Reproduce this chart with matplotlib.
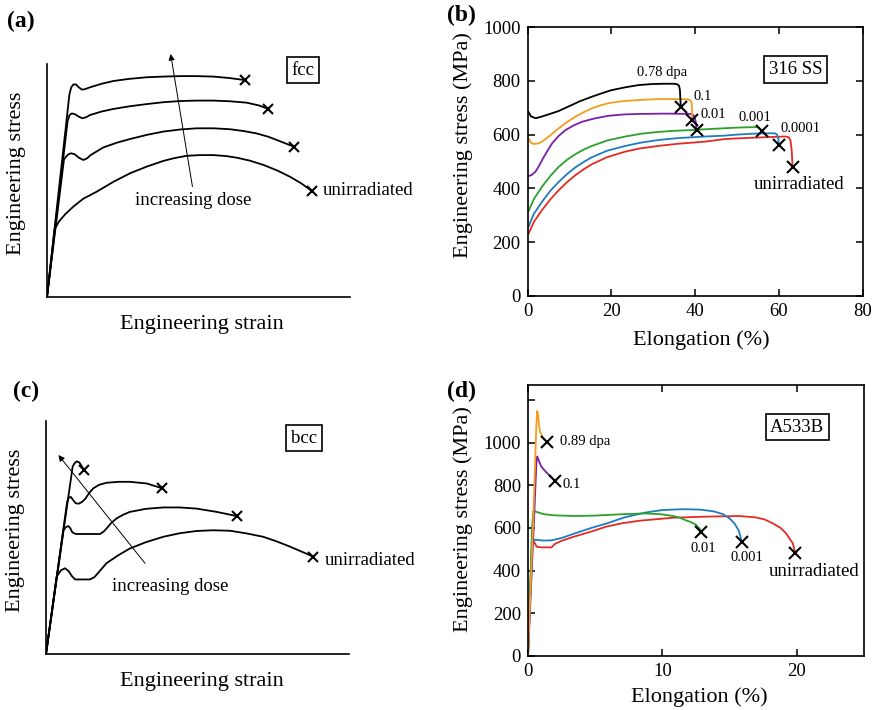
import matplotlib
matplotlib.use("Agg")
import matplotlib.pyplot as plt

plt.rcParams["font.family"] = "serif"
plt.rcParams["font.serif"] = ["Liberation Serif", "DejaVu Serif"]

# === Schematic fcc curves (arbitrary units) ===
fcc_unirr_x = [0, 0.25, 0.4, 0.6, 0.87, 1.2, 1.64, 2.2, 2.74, 3.3, 3.84, 4.2, 4.61, 5.05, 5.49, 5.9, 6.26, 6.7, 7.14, 7.6, 8.02, 8.4, 8.73]
fcc_unirr_y = [0, 2.9, 3.25, 3.55, 3.88, 4.22, 4.52, 4.95, 5.31, 5.6, 5.84, 5.96, 6.06, 6.09, 6.09, 6.05, 5.98, 5.85, 5.67, 5.43, 5.16, 4.87, 4.56]

fcc_d1_x = [0, 0.56, 0.63, 0.7, 0.8, 0.92, 1.05, 1.2, 1.32, 1.45, 1.86, 2.3, 2.74, 3.3, 3.84, 4.4, 4.94, 5.5, 6.04, 6.5, 6.92, 7.3, 7.58, 8.15]
fcc_d1_y = [0, 5.9, 6.02, 6.12, 6.17, 6.12, 5.98, 5.88, 5.95, 6.1, 6.42, 6.62, 6.78, 6.96, 7.1, 7.19, 7.24, 7.24, 7.2, 7.12, 7.02, 6.88, 6.74, 6.45]

fcc_d2_x = [0, 0.68, 0.74, 0.82, 0.93, 1.05, 1.17, 1.3, 1.42, 1.8, 2.19, 2.7, 3.29, 3.84, 4.39, 4.94, 5.49, 6.04, 6.59, 7.0, 7.3]
fcc_d2_y = [0, 7.55, 7.8, 7.88, 7.84, 7.74, 7.67, 7.72, 7.81, 7.96, 8.07, 8.18, 8.28, 8.36, 8.41, 8.43, 8.43, 8.4, 8.34, 8.22, 8.07]

fcc_d3_x = [0, 0.74, 0.8, 0.87, 0.95, 1.05, 1.15, 1.25, 1.42, 1.8, 2.19, 2.7, 3.29, 3.84, 4.39, 4.94, 5.49, 6.0, 6.53]
fcc_d3_y = [0, 8.7, 9.0, 9.12, 9.13, 9.0, 8.9, 8.92, 9.0, 9.15, 9.27, 9.36, 9.43, 9.46, 9.48, 9.48, 9.46, 9.4, 9.31]

# === Schematic bcc curves (arbitrary units) ===
bcc_unirr_x = [0, 0.35, 0.5, 0.63, 0.75, 0.85, 0.96, 1.2, 1.45, 1.6, 1.8, 2.0, 2.4, 2.77, 3.3, 3.87, 4.4, 4.97, 5.5, 6.07, 6.6, 7.17, 7.6, 8.05, 8.82]
bcc_unirr_y = [0, 3.32, 3.6, 3.68, 3.55, 3.35, 3.2, 3.2, 3.2, 3.3, 3.6, 3.9, 4.25, 4.53, 4.8, 5.03, 5.18, 5.28, 5.31, 5.29, 5.18, 5.03, 4.84, 4.61, 4.18]

bcc_d1_x = [0, 0.57, 0.66, 0.74, 0.8, 0.87, 0.98, 1.4, 1.78, 1.9, 2.0, 2.15, 2.33, 2.55, 2.77, 3.3, 3.87, 4.4, 4.97, 5.63, 6.29]
bcc_d1_y = [0, 5.3, 5.45, 5.49, 5.4, 5.22, 5.15, 5.15, 5.15, 5.25, 5.39, 5.62, 5.82, 5.98, 6.1, 6.23, 6.29, 6.29, 6.24, 6.1, 5.92]

bcc_d2_x = [0, 0.7, 0.76, 0.82, 0.9, 0.98, 1.08, 1.18, 1.29, 1.42, 1.56, 1.75, 2.0, 2.4, 2.77, 3.32, 3.84]
bcc_d2_y = [0, 6.55, 6.72, 6.74, 6.6, 6.47, 6.45, 6.52, 6.65, 6.9, 7.11, 7.26, 7.35, 7.39, 7.39, 7.32, 7.11]

bcc_d3_x = [0, 0.88, 0.95, 1.02, 1.1, 1.16, 1.25]
bcc_d3_y = [0, 8.05, 8.2, 8.27, 8.22, 8.1, 7.9]

# === 316 SS tensile data (elongation %, stress MPa) ===
ss_078_x = [0.3, 0.8, 1.9, 3.0, 5.0, 7.5, 10, 12.5, 15.4, 18, 20, 23.4, 26.5, 29.8, 32.5, 35.0, 35.8, 36.2, 36.4, 36.5, 36.6]
ss_078_y = [683, 668, 661, 665, 675, 688, 706, 724, 741, 755, 765, 776, 784, 788, 789, 789, 787, 781, 765, 735, 702]

ss_01_x = [0.3, 0.8, 1.5, 2.5, 3.5, 5.5, 7.5, 9.5, 11.5, 13.5, 15.4, 17.5, 19.4, 21.5, 23.4, 27, 31.3, 35, 38.3, 38.9, 39.2, 39.3, 39.3]
ss_01_y = [585, 570, 565, 567, 574, 598, 624, 647, 667, 684, 698, 709, 717, 722, 725, 729, 732, 732, 731, 728, 718, 690, 655]

ss_001_x = [0.3, 1.0, 1.9, 2.7, 3.5, 4.7, 5.9, 7.5, 9.1, 11, 13.1, 16, 19.4, 23, 27.4, 33, 38.5, 39.4, 39.9, 40.2, 40.4]
ss_001_y = [446, 450, 462, 482, 506, 538, 568, 596, 617, 634, 648, 660, 670, 675, 677, 678, 677, 675, 667, 645, 617]

ss_0001_x = [0.3, 1.5, 3.5, 5.5, 7.5, 9.5, 11.5, 13.5, 15.4, 19, 23.4, 27, 31.3, 35, 39.3, 45, 50, 54.8, 55.5, 55.9]
ss_0001_y = [317, 360, 407, 447, 481, 507, 528, 545, 558, 578, 593, 603, 610, 614, 617, 622, 626, 628, 622, 612]

ss_00001_x = [0.3, 1.5, 3.5, 5.5, 7.5, 9.5, 11.5, 13.5, 15.4, 19, 23.4, 27, 31.3, 36, 42.5, 46.9, 50, 54.8, 59.0, 59.6, 59.9, 60.0]
ss_00001_y = [260, 305, 351, 392, 425, 454, 479, 499, 516, 540, 558, 570, 580, 587, 593, 596, 600, 604, 605, 600, 585, 562]

ss_unirr_x = [0.3, 1.5, 3.5, 5.5, 7.5, 9.5, 11.5, 13.5, 15.4, 19, 23.4, 27, 31.3, 36, 42.5, 46.9, 50, 54.8, 58, 61.6, 62.4, 62.8, 63.1, 63.3]
ss_unirr_y = [233, 275, 320, 360, 394, 424, 450, 472, 490, 516, 537, 549, 558, 566, 574, 583, 586, 589, 591, 593, 590, 578, 540, 481]

# === A533B tensile data (elongation %, stress MPa) ===
a533_089_x = [0.0, 0.39, 0.52, 0.62, 0.68, 0.73, 0.8, 0.9, 1.05, 1.2, 1.38]
a533_089_y = [0, 637, 887, 1080, 1148, 1140, 1090, 1050, 1030, 1017, 1004]

a533_01_x = [0.0, 0.45, 0.62, 0.68, 0.75, 0.9, 1.0, 1.2, 1.38, 1.6, 1.8, 2.0]
a533_01_y = [0, 640, 900, 935, 925, 900, 887, 872, 860, 846, 834, 822]

a533_001_x = [0.0, 0.3, 0.4, 0.6, 0.9, 1.26, 2, 3.5, 5.0, 5.9, 7.2, 8.7, 9.8, 10.8, 11.3, 11.7, 12.1, 12.5, 12.8, 12.9]
a533_001_y = [0, 600, 680, 676, 670, 664, 659, 656, 658, 661, 665, 668, 665, 656, 648, 637, 628, 615, 595, 580]

a533_0001_x = [0, 0.3, 0.45, 0.8, 1.2, 1.75, 2.5, 3.5, 4.7, 5.9, 7.2, 8.7, 10, 11.5, 12.8, 13.8, 14.5, 15.0, 15.4, 15.7, 15.9]
a533_0001_y = [0, 520, 545, 543, 541, 542, 553, 575, 600, 622, 650, 672, 684, 688, 686, 678, 665, 645, 618, 585, 536]

a533_unirr_x = [0, 0.3, 0.45, 0.64, 1.0, 1.75, 2.0, 2.5, 3.35, 4.7, 5.8, 7.0, 8.3, 10.8, 13.2, 15.7, 16.9, 17.6, 18.2, 18.8, 19.2, 19.7, 19.9]
a533_unirr_y = [0, 530, 536, 512, 509, 509, 525, 540, 558, 583, 606, 622, 634, 648, 653, 656, 650, 640, 622, 600, 575, 528, 481]

C_BLACK = "black"
C_ORANGE = "#f39c1e"
C_PURPLE = "#7a1fa8"
C_GREEN = "#2ca02c"
C_BLUE = "#1f7bc0"
C_RED = "#e32b24"

LABEL_FS = 16
TICK_FS = 13.5
NOTE_FS = 13.5
DOSE_FS = 10.5


def schematic_axes(ax, xlabel_xy, ylabel_xy):
    ax.set_xlim(0, 10)
    ax.set_ylim(0, 10)
    for s in ["top", "right"]:
        ax.spines[s].set_visible(False)
    for s in ["left", "bottom"]:
        ax.spines[s].set_linewidth(1.2)
    ax.set_xticks([])
    ax.set_yticks([])
    ax.set_xlabel("Engineering strain", fontsize=LABEL_FS, va="center")
    ax.set_ylabel("Engineering stress", fontsize=LABEL_FS, va="center")
    ax.xaxis.set_label_coords(*xlabel_xy)
    ax.yaxis.set_label_coords(*ylabel_xy)


def data_axes(ax, xlabel_xy, ylabel_xy, right_ticks=True):
    for s in ax.spines.values():
        s.set_linewidth(1.2)
    ax.tick_params(direction="in", top=True, right=right_ticks, length=5, width=1.1,
                   labelsize=TICK_FS, pad=5)
    ax.set_xlabel("Elongation (%)", fontsize=LABEL_FS, va="center")
    ax.set_ylabel("Engineering stress (MPa)", fontsize=LABEL_FS, va="center")
    ax.xaxis.set_label_coords(*xlabel_xy)
    ax.yaxis.set_label_coords(*ylabel_xy)


def end_cross(ax, xs, ys, ms=8):
    ax.plot(xs[-1], ys[-1], marker="x", color="black", ms=ms, mew=1.5,
            clip_on=False, zorder=5)


box = dict(boxstyle="square,pad=0.25", fc="white", ec="black", lw=1.2)

fig = plt.figure(figsize=(8.76, 7.10), dpi=100)

# === (a) fcc schematic ===
ax_a = fig.add_axes([0.05365, 0.58169, 0.34589, 0.32817])
schematic_axes(ax_a, (0.512, -0.120), (-0.1007, 0.532))
for xs, ys in [(fcc_unirr_x, fcc_unirr_y), (fcc_d1_x, fcc_d1_y),
               (fcc_d2_x, fcc_d2_y), (fcc_d3_x, fcc_d3_y)]:
    ax_a.plot(xs, ys, color="black", lw=1.3, solid_joinstyle="round")
    end_cross(ax_a, xs, ys, ms=7)
ax_a.annotate("", xy=(4.08, 10.43), xytext=(4.80, 4.74), annotation_clip=False,
              arrowprops=dict(arrowstyle="-|>", lw=0.7, color="black",
                              mutation_scale=9, shrinkA=0, shrinkB=0, clip_on=False))
ax_a.text(4.83, 4.16, "increasing dose", fontsize=NOTE_FS, ha="center", va="center")
ax_a.text(9.11, 4.56, "unirradiated", fontsize=NOTE_FS, ha="left", va="center", clip_on=False)
ax_a.text(8.45, 9.74, "fcc", fontsize=NOTE_FS, ha="center", va="center", bbox=box)

# === (c) bcc schematic ===
ax_c = fig.add_axes([0.05251, 0.07887, 0.34589, 0.32817])
schematic_axes(ax_c, (0.515, -0.120), (-0.102, 0.532))
for xs, ys in [(bcc_unirr_x, bcc_unirr_y), (bcc_d1_x, bcc_d1_y),
               (bcc_d2_x, bcc_d2_y), (bcc_d3_x, bcc_d3_y)]:
    ax_c.plot(xs, ys, color="black", lw=1.3, solid_joinstyle="round")
    end_cross(ax_c, xs, ys, ms=7)
ax_c.annotate("", xy=(0.41, 8.54), xytext=(3.27, 3.89), annotation_clip=False,
              arrowprops=dict(arrowstyle="-|>", lw=0.7, color="black",
                              mutation_scale=9, shrinkA=0, shrinkB=0))
ax_c.text(4.09, 2.89, "increasing dose", fontsize=NOTE_FS, ha="center", va="center")
ax_c.text(9.21, 4.03, "unirradiated", fontsize=NOTE_FS, ha="left", va="center", clip_on=False)
ax_c.text(8.51, 9.27, "bcc", fontsize=NOTE_FS, ha="center", va="center", bbox=box)

# === (b) 316 SS ===
ax_b = fig.add_axes([0.60217, 0.58310, 0.38242, 0.37887])
ss_curves = [
    (ss_unirr_x, ss_unirr_y, C_RED),
    (ss_00001_x, ss_00001_y, C_BLUE),
    (ss_0001_x, ss_0001_y, C_GREEN),
    (ss_001_x, ss_001_y, C_PURPLE),
    (ss_01_x, ss_01_y, C_ORANGE),
    (ss_078_x, ss_078_y, C_BLACK),
]
for xs, ys, c in ss_curves:
    ax_b.plot(xs, ys, color=c, lw=1.3, solid_joinstyle="round")
for xs, ys, c in ss_curves:
    end_cross(ax_b, xs, ys)
ax_b.set_xlim(0, 80)
ax_b.set_ylim(0, 1000)
ax_b.set_xticks(range(0, 81, 20))
ax_b.set_yticks(range(0, 1001, 200))
data_axes(ax_b, (0.518, -0.164), (-0.1925, 0.561))
ax_b.text(32.1, 829, "0.78 dpa", fontsize=DOSE_FS, ha="center", va="center")
ax_b.text(41.9, 741, "0.1", fontsize=DOSE_FS, ha="center", va="center")
ax_b.text(44.4, 675, "0.01", fontsize=DOSE_FS, ha="center", va="center")
ax_b.text(54.3, 663, "0.001", fontsize=DOSE_FS, ha="center", va="center")
ax_b.text(65.1, 621, "0.0001", fontsize=DOSE_FS, ha="center", va="center")
ax_b.text(64.8, 413, "unirradiated", fontsize=NOTE_FS, ha="center", va="center")
ax_b.text(64.0, 842, "316 SS", fontsize=NOTE_FS, ha="center", va="center", bbox=box)

# === (d) A533B ===
ax_d = fig.add_axes([0.60274, 0.07606, 0.38356, 0.38169])
a533_curves = [
    (a533_unirr_x, a533_unirr_y, C_RED),
    (a533_0001_x, a533_0001_y, C_BLUE),
    (a533_001_x, a533_001_y, C_GREEN),
    (a533_01_x, a533_01_y, C_PURPLE),
    (a533_089_x, a533_089_y, C_ORANGE),
]
for xs, ys, c in a533_curves:
    ax_d.plot(xs, ys, color=c, lw=1.3, solid_joinstyle="round")
for xs, ys, c in a533_curves:
    end_cross(ax_d, xs, ys)
ax_d.set_xlim(0, 25)
ax_d.set_ylim(0, 1270)
ax_d.set_xticks([0, 10, 20])
ax_d.set_yticks(range(0, 1201, 200))
ax_d.set_yticklabels(["0", "200", "400", "600", "800", "1000", ""])
data_axes(ax_d, (0.509, -0.151), (-0.193, 0.506), right_ticks=False)
ax_d.text(4.24, 1004, "0.89 dpa", fontsize=DOSE_FS, ha="center", va="center")
ax_d.text(3.25, 805, "0.1", fontsize=DOSE_FS, ha="center", va="center")
ax_d.text(13.02, 505, "0.01", fontsize=DOSE_FS, ha="center", va="center")
ax_d.text(16.3, 463, "0.001", fontsize=DOSE_FS, ha="center", va="center")
ax_d.text(21.27, 395, "unirradiated", fontsize=NOTE_FS, ha="center", va="center")
ax_d.text(20.04, 1072, "A533B", fontsize=NOTE_FS, ha="center", va="center", bbox=box)

# === Panel letters ===
for x, y, s in [(0.008, 0.970, "(a)"), (0.5103, 0.9789, "(b)"),
                (0.0148, 0.4493, "(c)"), (0.5103, 0.4493, "(d)")]:
    fig.text(x, y, s, fontsize=17, fontweight="bold", ha="left", va="center")

fig.savefig("out.png", dpi=100)
